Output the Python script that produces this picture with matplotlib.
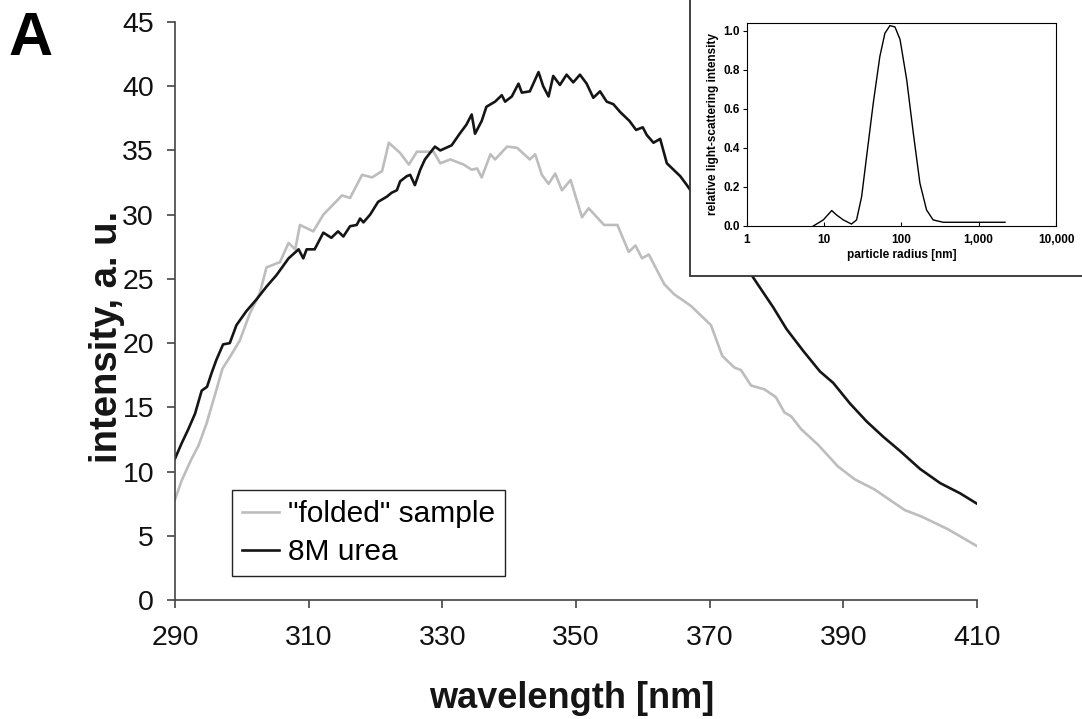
import numpy as np
import matplotlib
matplotlib.use('Agg')
import matplotlib.pyplot as plt
from matplotlib.patches import Rectangle

plt.rcParams['font.family'] = ['Liberation Sans', 'DejaVu Sans']

# main panel: fluorescence spectra
wl_folded = [290, 291, 292.4, 293.5, 294.7, 296, 297.1, 298.2, 299.7, 301.2, 302.7, 303.7,
             305.7, 307.0, 308.0, 308.7, 310.7, 312.2, 315.0, 316.2, 318.0, 319.5, 321.0,
             322.0, 323.7, 325.0, 326.2, 328.7, 329.7, 331.2, 333.2, 334.4, 335.2, 335.9,
             337.2, 337.9, 339.7, 341.2, 343.1, 343.9, 344.9, 345.9, 346.9, 347.9, 349.2,
             350.9, 351.9, 354.2, 356.2, 357.9, 358.9, 359.9, 360.9, 363.2, 364.7, 367.2,
             370.2, 371.9, 373.7, 374.7, 376.2, 378.2, 379.9, 381.2, 382.2, 383.7, 386.2,
             389.2, 391.7, 394.7, 399.2, 401.7, 405.7, 410]
int_folded = [7.8, 9.3, 10.9, 12.0, 13.7, 16.0, 18.0, 18.9, 20.2, 22.3, 23.9, 25.9,
              26.3, 27.8, 27.3, 29.2, 28.7, 30.0, 31.5, 31.3, 33.1, 32.9, 33.4,
              35.6, 34.8, 33.9, 34.9, 34.9, 34.0, 34.3, 33.9, 33.5, 33.6, 32.9,
              34.7, 34.3, 35.3, 35.2, 34.3, 34.7, 33.1, 32.4, 33.2, 31.9, 32.7,
              29.8, 30.5, 29.2, 29.2, 27.1, 27.6, 26.6, 26.9, 24.6, 23.8, 22.9,
              21.4, 19.0, 18.1, 17.9, 16.7, 16.4, 15.8, 14.6, 14.3, 13.3, 12.1,
              10.4, 9.4, 8.6, 7.0, 6.5, 5.5, 4.2]

wl_urea = [290, 291, 292, 293, 294, 294.8, 295.5, 296.2, 297.2, 298.2, 299.2, 300.7,
           302.2, 303.7, 305.2, 307.0, 308.5, 309.2, 309.7, 310.9, 312.2, 313.4, 314.4,
           315.2, 316.2, 317.2, 317.7, 318.2, 319.2, 320.4, 321.7, 322.4, 323.2, 323.7,
           324.7, 325.2, 325.9, 326.7, 327.4, 328.9, 329.7, 331.4, 332.6, 333.6, 334.4,
           334.9, 335.9, 336.6, 337.9, 338.9, 339.4, 340.4, 341.4, 341.9, 343.1, 344.4,
           345.1, 345.9, 346.6, 347.6, 348.6, 349.6, 350.6, 351.6, 352.6, 353.6, 354.6,
           355.6, 356.6, 358.0, 359.0, 360.0, 360.6, 361.6, 362.6, 363.6, 364.6, 365.6,
           366.6, 369, 372, 375, 377.3, 379.5, 381.5, 384.0, 386.5, 388.5, 391.0, 393.5,
           396.0, 398.5, 401.5, 404.5, 407.5, 410]
int_urea = [11.0, 12.2, 13.3, 14.5, 16.3, 16.6, 17.7, 18.7, 19.9, 20.0, 21.4, 22.5,
            23.4, 24.4, 25.3, 26.6, 27.3, 26.6, 27.3, 27.3, 28.6, 28.2, 28.7,
            28.3, 29.1, 29.2, 29.7, 29.4, 30.0, 31.0, 31.4, 31.7, 31.9, 32.6,
            33.0, 33.1, 32.3, 33.5, 34.3, 35.3, 35.0, 35.4, 36.3, 37.0, 37.8,
            36.3, 37.3, 38.4, 38.8, 39.3, 38.8, 39.2, 40.2, 39.5, 39.6, 41.1,
            40.0, 39.2, 40.8, 40.1, 40.9, 40.3, 40.9, 40.2, 39.1, 39.6, 38.8,
            38.6, 38.0, 37.3, 36.6, 36.8, 36.2, 35.6, 35.9, 34.0, 33.5, 33.0,
            32.3, 30.5, 28.5, 26.3, 24.5, 22.8, 21.1, 19.4, 17.8, 16.9, 15.3, 13.9,
            12.7, 11.6, 10.2, 9.1, 8.3, 7.5]

# inset: light scattering size distribution
radius = [7.3, 9.8, 12.6, 14.6, 17.8, 22.7, 26.4, 30.7, 35.6, 43.4, 52.8, 61.4, 71.3,
          82.8, 96.3, 117.4, 143, 174, 212, 258, 348, 2190]
scatter = [0.0, 0.031, 0.079, 0.056, 0.031, 0.010, 0.031, 0.15, 0.356, 0.629, 0.868,
           0.987, 1.026, 1.019, 0.955, 0.749, 0.475, 0.219, 0.082, 0.031, 0.019, 0.019]
radius_ticks = [1, 10, 100, 1000, 10000]
radius_labels = ['1', '10', '100', '1,000', '10,000']

fig = plt.figure(figsize=(10.82, 7.19), dpi=100)
ax = fig.add_axes([0.1617, 0.1655, 0.7412, 0.8039])

ax.plot(wl_folded, int_folded, color='#bdbdbd', lw=1.9, label='"folded" sample')
ax.plot(wl_urea, int_urea, color='#151515', lw=1.9, label='8M urea')

ax.set_xlim(290, 410)
ax.set_ylim(0, 45)
ax.set_xticks(np.arange(290, 411, 20))
ax.set_yticks(np.arange(0, 46, 5))
for s in ['top', 'right']:
    ax.spines[s].set_visible(False)
for s in ['left', 'bottom']:
    ax.spines[s].set_color('#444444')
    ax.spines[s].set_linewidth(1.2)
ax.tick_params(axis='both', colors='#444444', labelcolor='#111111', labelsize=20.5,
               length=6, width=1.2)
ax.tick_params(axis='x', pad=12)
ax.tick_params(axis='y', pad=9)

fig.text(0.528, 0.004, 'wavelength [nm]', fontsize=26, fontweight='bold',
         ha='center', va='bottom', color='#151515')
fig.text(0.099, 0.531, 'intensity, a. u.', fontsize=27.5, fontweight='bold',
         rotation=90, ha='center', va='center', color='#151515')
fig.text(0.008, 0.985, 'A', fontsize=44, fontweight='bold', ha='left', va='top')

leg = ax.legend(loc='lower left', bbox_to_anchor=(0.071, 0.0415), fontsize=21.5,
                handlelength=1.25, handletextpad=0.3, labelspacing=0.33,
                borderpad=0.33, borderaxespad=0, fancybox=False, framealpha=1)
leg.get_frame().set_edgecolor('#222222')
leg.get_frame().set_linewidth(1.0)

# white box behind the inset
box = Rectangle((0.6377, 0.616), 0.6, 0.6, transform=fig.transFigure,
                facecolor='white', edgecolor='#333333', lw=1.3, zorder=1)
fig.patches.append(box)

ins = fig.add_axes([0.690, 0.6857, 0.286, 0.2825], zorder=3)
ins.plot(radius, scatter, color='black', lw=1.0)
ins.set_xscale('log')
ins.set_xlim(1, 10000)
ins.set_ylim(0, 1.04)
ins.set_xticks(radius_ticks)
ins.set_xticklabels(radius_labels)
ins.xaxis.set_minor_locator(matplotlib.ticker.NullLocator())
ins.set_yticks([0, 0.2, 0.4, 0.6, 0.8, 1.0])
ins.set_yticklabels(['0.0', '0.2', '0.4', '0.6', '0.8', '1.0'])
ins.tick_params(labelsize=8.5)
for lab in ins.get_xticklabels() + ins.get_yticklabels():
    lab.set_fontweight('bold')
ins.tick_params(axis='x', direction='in', length=3, pad=6)
ins.tick_params(axis='y', direction='out', length=3, pad=2)
ins.set_xlabel('particle radius [nm]', fontsize=8.5, fontweight='bold', labelpad=2)
ins.set_ylabel('relative light-scattering intensity', fontsize=8.5, fontweight='bold',
               labelpad=3)
for s in ins.spines.values():
    s.set_linewidth(0.8)

fig.savefig('out.png', dpi=100)
